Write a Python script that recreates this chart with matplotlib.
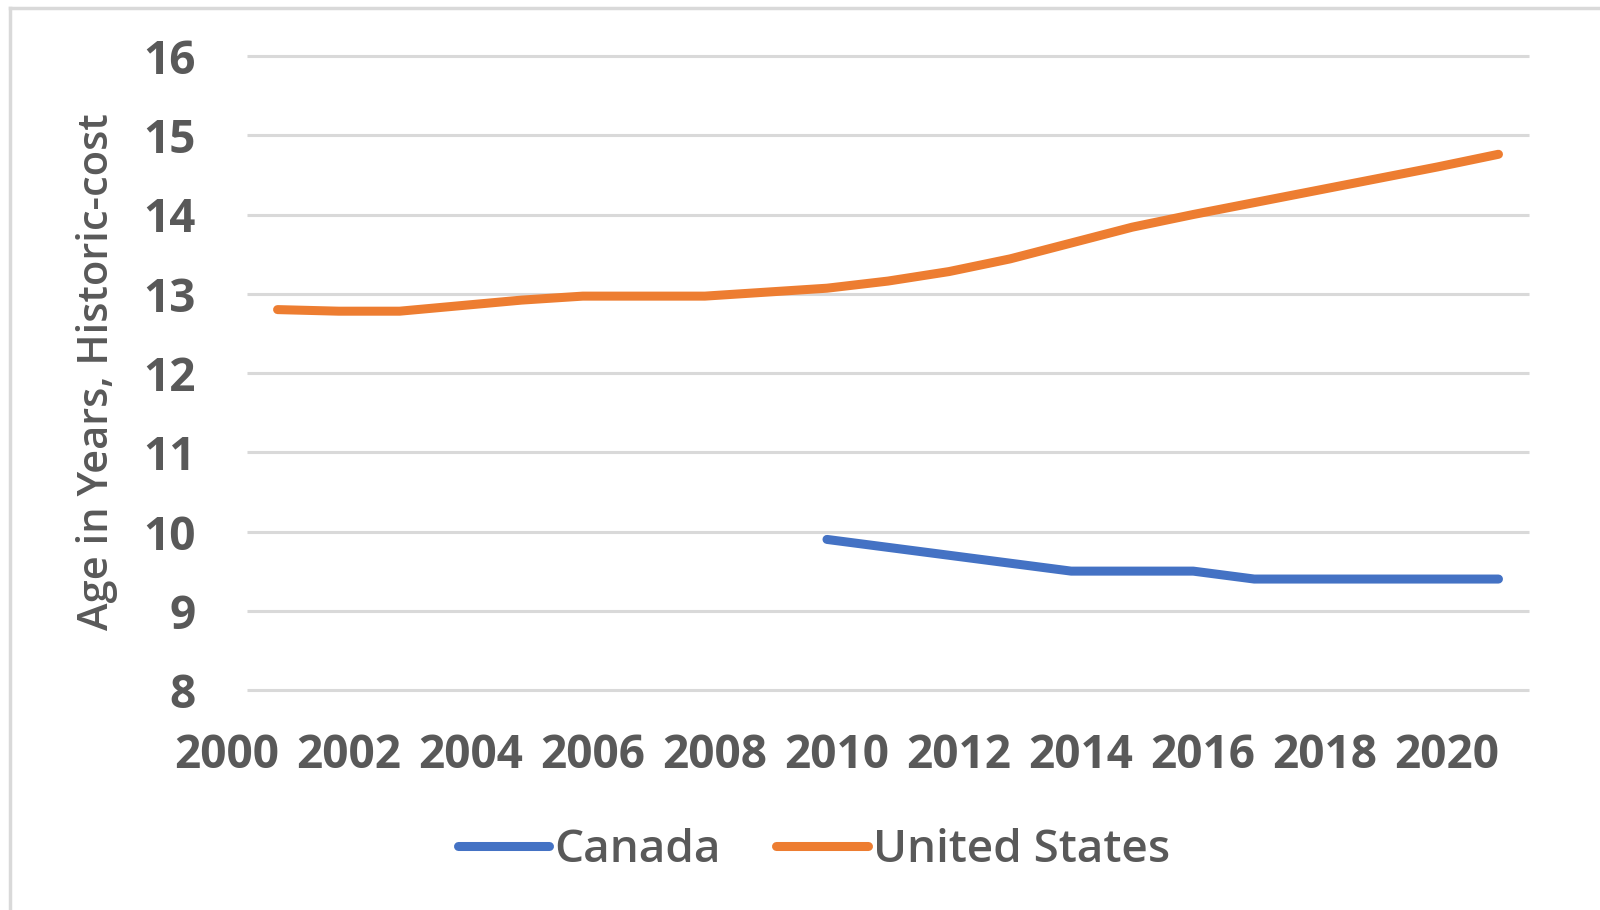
import matplotlib
matplotlib.use("Agg")
import matplotlib.pyplot as plt
from matplotlib.lines import Line2D

plt.rcParams['font.family'] = ['Open Sans', 'DejaVu Sans']

# data
years_us = [2001, 2002, 2003, 2004, 2005, 2006, 2007, 2008, 2009, 2010, 2011,
            2012, 2013, 2014, 2015, 2016, 2017, 2018, 2019, 2020, 2021]
us_age = [12.80, 12.78, 12.78, 12.85, 12.92, 12.97, 12.97, 12.97, 13.02, 13.07, 13.16,
          13.28, 13.44, 13.64, 13.84, 14.00, 14.15, 14.30, 14.45, 14.60, 14.76]
years_ca = [2010, 2011, 2012, 2013, 2014, 2015, 2016, 2017, 2018, 2019, 2020, 2021]
ca_age = [9.9, 9.8, 9.7, 9.6, 9.5, 9.5, 9.5, 9.4, 9.4, 9.4, 9.4, 9.4]
y_ticks = [8, 9, 10, 11, 12, 13, 14, 15, 16]
x_labels = [2000, 2002, 2004, 2006, 2008, 2010, 2012, 2014, 2016, 2018, 2020]

blue = '#4472C4'
orange = '#ED7D31'
grey = '#595959'

W, H = 1600, 910
fig = plt.figure(figsize=(16, 9.1), dpi=100)
# axes box in pixels: x 186..1529, y 56..690
ax = fig.add_axes([186 / W, 1 - 690 / H, (1529 - 186) / W, (690 - 56) / H])
ax.set_xlim(1999.5, 2021.5)
ax.set_ylim(8, 16)

# gridlines only over the plot area (category axis, half a year padding)
ax.hlines(y_ticks, 2000.5, 2021.5, color='#D9D9D9', lw=2.2, zorder=1, clip_on=False)

ax.plot(years_ca, ca_age, color=blue, lw=6.5, solid_capstyle='round',
        solid_joinstyle='round', label='Canada', zorder=3, clip_on=False)
ax.plot(years_us, us_age, color=orange, lw=6.5, solid_capstyle='round',
        solid_joinstyle='round', label='United States', zorder=3, clip_on=False)

for s in ax.spines.values():
    s.set_visible(False)
# labels sit slightly right of the year in the original Excel chart
ax.set_xticks([y + 0.16 for y in x_labels])
ax.set_xticklabels([str(y) for y in x_labels])
ax.set_yticks(y_ticks)
ax.tick_params(length=0, labelsize=33, labelcolor=grey)
ax.tick_params(axis='y', pad=-7)
ax.tick_params(axis='x', pad=30)
for lab in ax.get_xticklabels() + ax.get_yticklabels():
    lab.set_fontweight('bold')

fig.text(97 / W, 1 - 372 / H, 'Age in Years, Historic-cost', rotation=90,
         ha='center', va='center', fontsize=30, color=grey, fontweight='semibold')

leg = ax.legend(loc='center', bbox_to_anchor=(814 / W, 1 - 851 / H),
                bbox_transform=fig.transFigure, ncol=2, frameon=False,
                handlelength=2.0, handletextpad=0.12, columnspacing=1.2,
                prop={'size': 33, 'weight': 'semibold'})
for t in leg.get_texts():
    t.set_color(grey)

# light chart border (left and top edges visible)
fig.add_artist(Line2D([10 / W, 10 / W], [0, 1 - 8 / H], color='#D9D9D9', lw=2.5))
fig.add_artist(Line2D([10 / W, 1], [1 - 8 / H, 1 - 8 / H], color='#D9D9D9', lw=2.5))

fig.savefig('out.png', dpi=100, facecolor='white')
